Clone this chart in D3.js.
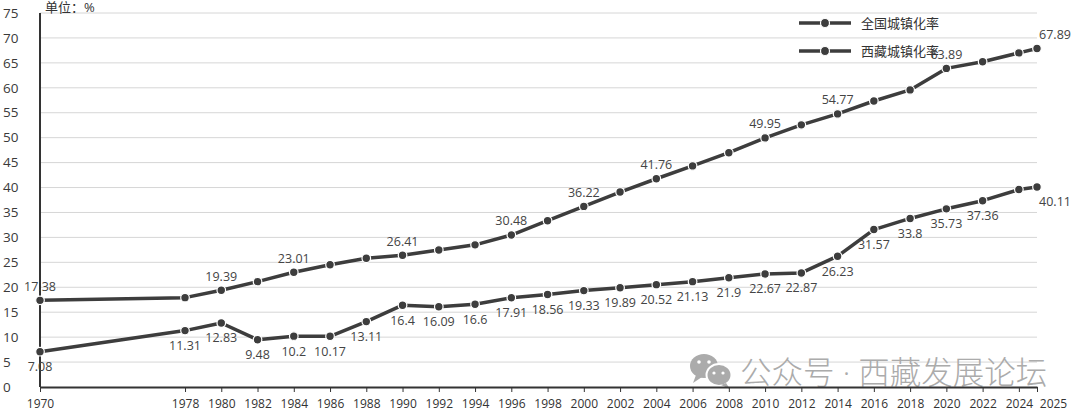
<!DOCTYPE html>
<html>
<head>
<meta charset="utf-8">
<script src="https://cdn.jsdelivr.net/npm/d3@7/dist/d3.min.js"></script>
<style>
html,body{margin:0;padding:0;background:#fff;}
svg{display:block;}
text{font-family:"Open Sans","Noto Sans CJK SC",sans-serif;}
</style>
</head>
<body>
<svg id="chart" width="1080" height="414"></svg>
<script>
const years = [1970,1978,1980,1982,1984,1986,1988,1990,1992,1994,1996,1998,2000,2002,2004,2006,2008,2010,2012,2014,2016,2018,2020,2022,2024,2025];
const national = [17.38,17.92,19.39,21.13,23.01,24.52,25.81,26.41,27.46,28.51,30.48,33.35,36.22,39.09,41.76,44.34,46.99,49.95,52.57,54.77,57.35,59.58,63.89,65.22,67.00,67.89];
const tibet = [7.08,11.31,12.83,9.48,10.2,10.17,13.11,16.4,16.09,16.6,17.91,18.56,19.33,19.89,20.52,21.13,21.9,22.67,22.87,26.23,31.57,33.8,35.73,37.36,39.6,40.11];
const nationalLabelYears = [1970,1980,1984,1990,1996,2000,2004,2010,2014,2020,2025];
const tibetLabelYears = [1970,1978,1980,1982,1984,1986,1988,1990,1992,1994,1996,1998,2000,2002,2004,2006,2008,2010,2012,2014,2016,2018,2020,2022,2025];
const yTicks = [0,5,10,15,20,25,30,35,40,45,50,55,60,65,70,75];
const seriesNames = ["全国城镇化率","西藏城镇化率"];
const unitLabel = "单位：%";
const watermark = "公众号 · 西藏发展论坛";

const svg = d3.select("#chart");
const x = d3.scaleLinear().domain([1970,2025]).range([40,1037]);
const y = d3.scaleLinear().domain([0,75]).range([387,13]);
const lineColor = "#3d3d3d";

// gridlines
svg.append("g").selectAll("line").data(yTicks.filter(d=>d>0)).join("line")
  .attr("x1",x(1970)).attr("x2",x(2025))
  .attr("y1",d=>y(d)).attr("y2",d=>y(d))
  .attr("stroke","#d6d6d6").attr("stroke-width",1);

// y labels
svg.append("g").selectAll("text").data(yTicks).join("text")
  .attr("x",3).attr("y",d=>y(d)).attr("dy","0.35em")
  .attr("font-size",13.5).attr("fill","#3a3a3a").text(d=>d);

// watermark
const wm = svg.append("g").attr("fill","#ababab");
wm.append("ellipse").attr("cx",704).attr("cy",366).attr("rx",14).attr("ry",12);
wm.append("path").attr("d","M696,375 L693,383 L702,377 Z");
wm.append("ellipse").attr("cx",719).attr("cy",375).attr("rx",12.5).attr("ry",11).attr("stroke","#fff").attr("stroke-width",2);
wm.append("path").attr("d","M726,383 L730,389 L721,385 Z");
wm.append("circle").attr("cx",699).attr("cy",362).attr("r",1.8).attr("fill","#fff");
wm.append("circle").attr("cx",709).attr("cy",362).attr("r",1.8).attr("fill","#fff");
wm.append("circle").attr("cx",714).attr("cy",373).attr("r",1.6).attr("fill","#fff");
wm.append("circle").attr("cx",723).attr("cy",373).attr("r",1.6).attr("fill","#fff");
svg.append("text").attr("x",740).attr("y",384)
  .attr("font-family","'Noto Sans CJK SC',sans-serif").attr("font-weight",300)
  .attr("font-size",31.5).attr("fill","#ababab").text(watermark);

// x axis
const xAxis = d3.axisBottom(x).tickValues(years).tickFormat(d=>d).tickSize(5).tickSizeOuter(0);
const gx = svg.append("g").attr("transform",`translate(0,${y(0)})`).call(xAxis);
gx.select(".domain").attr("stroke","#333").attr("stroke-width",2);
gx.selectAll(".tick line").attr("stroke","#333");
gx.selectAll(".tick text").attr("font-size",12).attr("fill","#333")
  .attr("font-family","'Open Sans',sans-serif").attr("y",12)
  .attr("dx",d=>d===2025?16:0);

// y axis line
svg.append("line").attr("x1",x(1970)).attr("x2",x(1970)).attr("y1",y(75)).attr("y2",y(0))
  .attr("stroke","#333").attr("stroke-width",2);

// unit
svg.append("text").attr("x",45).attr("y",12).attr("font-size",13)
  .attr("font-family","'Noto Sans CJK SC',sans-serif").attr("fill","#333").text(unitLabel);

const line = d3.line().x(d=>x(d[0])).y(d=>y(d[1]));
function drawSeries(vals, labelYears, dy){
  const data = years.map((yr,i)=>[yr,vals[i]]);
  svg.append("path").datum(data).attr("d",line)
    .attr("fill","none").attr("stroke",lineColor).attr("stroke-width",3.5)
    .attr("stroke-linejoin","round");
  svg.append("g").selectAll("circle").data(data).join("circle")
    .attr("cx",d=>x(d[0])).attr("cy",d=>y(d[1])).attr("r",4.3)
    .attr("fill",lineColor).attr("stroke","#fff").attr("stroke-width",1.2);
  svg.append("g").selectAll("text").data(data.filter(d=>labelYears.includes(d[0]))).join("text")
    .attr("x",d=>x(d[0])+(d[0]===2025?18:0)).attr("y",d=>y(d[1])+dy).attr("dy","0.35em")
    .attr("text-anchor","middle").attr("font-size",12.5).attr("fill","#444")
    .text(d=>d[1]);
}
drawSeries(national, nationalLabelYears, -14);
drawSeries(tibet, tibetLabelYears, 15);

// legend
const lg = svg.append("g");
[23,51].forEach((ly,i)=>{
  lg.append("line").attr("x1",799).attr("x2",851).attr("y1",ly).attr("y2",ly)
    .attr("stroke",lineColor).attr("stroke-width",3.5);
  lg.append("circle").attr("cx",825).attr("cy",ly).attr("r",4.5).attr("fill",lineColor)
    .attr("stroke","#fff").attr("stroke-width",1.2);
  lg.append("text").attr("x",861).attr("y",ly).attr("dy","0.35em").attr("font-size",13)
    .attr("font-family","'Noto Sans CJK SC',sans-serif").attr("fill","#333").text(seriesNames[i]);
});
</script>
</body>
</html>
